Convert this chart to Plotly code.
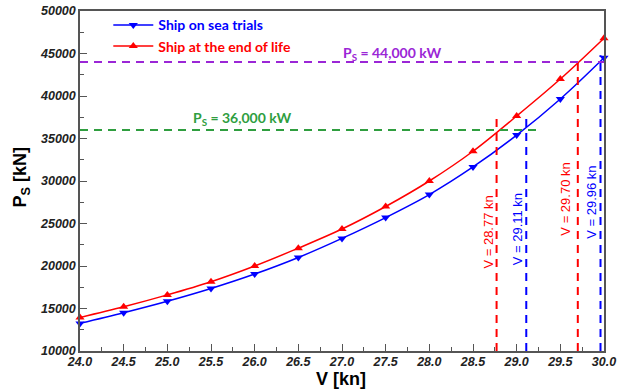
import plotly.graph_objects as go

# ---- data ----
speed = [24.0, 24.5, 25.0, 25.5, 26.0, 26.5, 27.0, 27.5, 28.0, 28.5, 29.0, 29.5, 30.0]
power_sea_trials = [13250, 14500, 15850, 17350, 19050, 21000, 23250, 25700, 28400, 31650, 35400, 39650, 44500]
power_end_of_life = [13950, 15200, 16600, 18150, 20000, 22100, 24350, 27000, 30000, 33500, 37650, 42000, 46800]

power_levels = [44000, 36000]
power_labels = ["P<sub>S</sub> = 44,000 kW", "P<sub>S</sub> = 36,000 kW"]
level_end_speed = [30.0, 29.25]
level_label_speed = [27.57, 25.85]

speed_marks = [28.77, 29.11, 29.70, 29.96]
speed_mark_top = [37600, 37600, 44600, 44800]
speed_labels = ["V = 28.77 kn", "V = 29.11 kn", "V = 29.70 kn", "V = 29.96 kn"]
speed_label_center = [24000, 24350, 27900, 27500]

x_ticks = [24.0, 24.5, 25.0, 25.5, 26.0, 26.5, 27.0, 27.5, 28.0, 28.5, 29.0, 29.5, 30.0]
y_ticks = [10000, 15000, 20000, 25000, 30000, 35000, 40000, 45000, 50000]

BLUE = "#0000ff"
RED = "#ff0000"
PURPLE = "#9b26d6"
GREEN = "#2f9e3f"
LEGFONT = "Lato"
TXT = "Liberation Sans"

fig = go.Figure()

fig.add_trace(go.Scatter(
    x=speed, y=power_sea_trials, mode="lines+markers", line_shape="spline",
    name="<b><span style='color:%s'>Ship on sea trials</span></b>" % BLUE,
    line=dict(color=BLUE, width=1.5),
    marker=dict(symbol="triangle-down", size=8, color=BLUE),
    cliponaxis=False,
))
fig.add_trace(go.Scatter(
    x=speed, y=power_end_of_life, mode="lines+markers", line_shape="spline",
    name="<b><span style='color:%s'>Ship at the end of life</span></b>" % RED,
    line=dict(color=RED, width=1.5),
    marker=dict(symbol="triangle-up", size=8, color=RED),
    cliponaxis=False,
))

shapes = []
annotations = []
level_colors = [PURPLE, GREEN]
level_text_shift = [-3, 0]
for p, lab, xe, c, lx, ys in zip(power_levels, power_labels, level_end_speed, level_colors,
                                 level_label_speed, level_text_shift):
    shapes.append(dict(type="line", xref="x", yref="y", x0=speed[0], x1=xe, y0=p, y1=p,
                       line=dict(color=c, width=2, dash="8px,6px")))
    annotations.append(dict(x=lx, y=p, xref="x", yref="y", text="<b>%s</b>" % lab,
                            showarrow=False, xanchor="center", yanchor="bottom", yshift=ys,
                            font=dict(family=LEGFONT, size=14, color=c)))

mark_colors = [RED, BLUE, RED, BLUE]
label_offsets = [-9, -9, -12, -9]
for v, top, lab, c, off, yc in zip(speed_marks, speed_mark_top, speed_labels, mark_colors,
                                   label_offsets, speed_label_center):
    shapes.append(dict(type="line", xref="x", yref="y", x0=v, x1=v, y0=10000, y1=top,
                       line=dict(color=c, width=2, dash="8px,6px")))
    annotations.append(dict(x=v, y=yc, xref="x", yref="y", text=lab, textangle=-90,
                            showarrow=False, xshift=off, xanchor="center", yanchor="middle",
                            font=dict(family=TXT, size=13, color=c)))

annotations.append(dict(x=0.498, y=-0.083, xref="paper", yref="paper", text="<b>V [kn]</b>",
                        showarrow=False, xanchor="center", yanchor="middle",
                        font=dict(family=TXT, size=18, color="black")))
annotations.append(dict(x=-0.111, y=0.51, xref="paper", yref="paper",
                        text="<b>P<sub>S</sub> [kN]</b>", textangle=-90,
                        showarrow=False, xanchor="center", yanchor="middle",
                        font=dict(family=TXT, size=18, color="black")))

tickfont = dict(family=TXT, size=12.5, color="#222", weight="bold", style="italic")

fig.update_layout(
    width=641, height=391,
    margin=dict(l=80, r=37, t=11, b=40, autoexpand=False),
    paper_bgcolor="white", plot_bgcolor="white",
    shapes=shapes, annotations=annotations,
    showlegend=True,
    legend=dict(x=0.054, y=1.005, xanchor="left", yanchor="top",
                bgcolor="rgba(0,0,0,0)", font=dict(family=LEGFONT, size=14),
                itemwidth=40, tracegroupgap=0),
    xaxis=dict(range=[24, 30], tickvals=x_ticks, ticktext=["%.1f" % t for t in x_ticks],
               showgrid=False, zeroline=False, showline=True, mirror=True,
               linecolor="#555", linewidth=1.5, ticks="inside", ticklen=7, tickwidth=1,
               tickcolor="#555", tickfont=tickfont, ticklabelstandoff=-2,
               minor=dict(ticks="inside", ticklen=4, dtick=0.25, tick0=24, tickcolor="#555")),
    yaxis=dict(range=[10000, 50000], tickvals=y_ticks, ticktext=[str(t) for t in y_ticks],
               showgrid=False, zeroline=False, showline=True, mirror=True,
               linecolor="#555", linewidth=1.5, ticks="inside", ticklen=7, tickwidth=1,
               tickcolor="#555", tickfont=tickfont,
               minor=dict(ticks="inside", ticklen=4, dtick=2500, tick0=10000, tickcolor="#555")),
)

fig.write_html("out.html")
